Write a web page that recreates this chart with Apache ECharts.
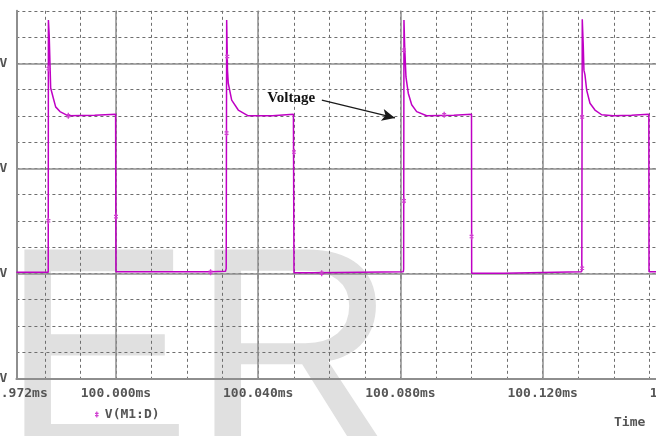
<!DOCTYPE html>
<html>
<head>
<meta charset="utf-8">
<script src="https://cdn.jsdelivr.net/npm/echarts@6/dist/echarts.min.js"></script>
<style>
  html, body { margin: 0; padding: 0; background: #ffffff; }
  #chart { width: 656px; height: 436px; }
</style>
</head>
<body>
<div id="chart"></div>
<script>
// Drain voltage V(M1:D); time in microseconds after 100.000 ms, voltage in volts.
const timeUs = [
  -28, -19.05,
  -19.0, -18.78, -18.36, -17.63, -16.96, -15.75, -13.41, -6.0, -0.1, 0.0,
  0.05, 26.6, 30.8, 31.0,
  31.13, 31.36, 31.58, 32.54, 34.39, 37.2, 44.0, 49.9, 50.06,
  56.8, 56.9, 80.8, 80.9,
  80.99, 81.19, 81.55, 82.2, 83.16, 84.56, 87.37, 95.0, 99.98, 100.03,
  109.1, 109.2, 130.9, 131.0,
  131.13, 131.41, 131.6, 131.89, 132.37, 133.3, 134.7, 136.58, 139.85, 145.0, 149.85, 149.9,
  170
];
const voltV = [
  0.2, 0.2,
  48.25, 45.4, 35.3, 33.4, 31.7, 30.8, 30.0, 30.1, 30.3, 0.3,
  0.2, 0.3, 0.4, 0.9,
  48.25, 38.7, 36.2, 33.0, 31.1, 30.0, 30.0, 30.3, 0.1,
  0.1, 0.3, 0.3, 0.8,
  48.25, 43.2, 37.4, 34.3, 32.1, 30.8, 30.0, 30.1, 30.3, 0.0,
  0.0, 0.25, 0.3, 1.0,
  48.4, 43.4, 38.7, 37.8, 34.9, 32.4, 31.1, 30.2, 30.0, 30.1, 30.3, 0.3,
  0.3
];

// Trace point markers
const markerTimeUs = [-19.0, -13.4, -19.0, 0.0, 26.6, 31.3, 31.1, 50.06, 57.85, 81.0, 92.3, 81.0, 100.0, 131.1, 131.1];
const markerVoltV  = [39.0, 30.0, 10.0, 10.8, 0.2, 41.3, 26.7, 23.1, 0.0, 42.5, 30.2, 13.8, 7.0, 0.95, 29.8];

// Axis ranges and labelled ticks
const timeStartUs = -28;
const timeEndUs = 170;
const majorTimeTicksUs = [0, 40, 80, 120, 160];
const voltMin = -20;
const voltMax = 50;
const majorVoltTicks = [-20, 0, 20, 40];

// Annotation arrow, in data units
const noteText = 'Voltage';
const noteFrom = [57.9, 33.0];
const noteTo = [78.46, 29.6];

const seriesName = 'V(M1:D)';

// Pixel geometry of the plot
const pxPerUs = 3.556;
const pxPerVolt = 5.25;
const plotLeft = 16.4;
const plotTop = 10.8;
const plotHeight = (voltMax - voltMin) * pxPerVolt;
const plotWidth = (timeEndUs - timeStartUs) * pxPerUs;

const monoFont = 'DejaVu Sans Mono';
const labelColor = '#555555';
const magenta = '#bf00c4';
const dashColor = '#6e6e6e';
const solidColor = '#8e8e8e';
const markerPath = 'path://M2 0H4V10H2Z M0 2H6V4H0Z M0 6H6V8H0Z';

const fmtTime = v => (100 + v / 1000).toFixed(3) + 'ms';

const chart = echarts.init(document.getElementById('chart'), null, { renderer: 'canvas' });

const majorGridLeft = plotLeft + (Math.floor(timeStartUs / 40) * 40 - timeStartUs) * pxPerUs;
const majorVoltTop = plotTop - (60 - voltMax) * pxPerVolt;

chart.setOption({
  animation: false,
  backgroundColor: '#ffffff',
  textStyle: { fontFamily: monoFont },
  grid: [
    { left: plotLeft, top: plotTop, width: plotWidth, height: plotHeight, outerBoundsMode: 'none', containLabel: false },
    { left: majorGridLeft, top: plotTop, width: (timeEndUs - Math.floor(timeStartUs / 40) * 40) * pxPerUs, height: plotHeight, outerBoundsMode: 'none', containLabel: false },
    { left: plotLeft, top: majorVoltTop, width: plotWidth, height: (60 - voltMin) * pxPerVolt, outerBoundsMode: 'none', containLabel: false }
  ],
  xAxis: [
    {
      gridIndex: 0, type: 'value', min: timeStartUs, max: timeEndUs, splitNumber: 20,
      axisLine: { show: true, onZero: false, lineStyle: { color: solidColor, width: 2 } },
      axisTick: { show: false },
      splitLine: { show: true, lineStyle: { color: dashColor, width: 1, type: [3, 3] } },
      axisLabel: {
        show: true, margin: 9, color: labelColor, fontFamily: monoFont, fontSize: 13, fontWeight: 'bold',
        showMinLabel: true, showMaxLabel: true, hideOverlap: false,
        formatter: v => {
          const r = Math.round(v * 1000) / 1000;
          if (Math.abs(r - timeStartUs) < 1e-6) return fmtTime(timeStartUs);
          return majorTimeTicksUs.some(t => Math.abs(t - r) < 1e-6) ? fmtTime(r) : '';
        }
      }
    },
    {
      gridIndex: 1, type: 'value', min: Math.floor(timeStartUs / 40) * 40, max: timeEndUs, interval: 40,
      axisLine: { show: false },
      axisTick: { show: true, inside: false, length: 6, lineStyle: { color: solidColor, width: 1.5 } },
      axisLabel: { show: false },
      splitLine: { show: true, lineStyle: { color: solidColor, width: 1.5, type: 'solid' } }
    },
    { gridIndex: 2, type: 'value', min: timeStartUs, max: timeEndUs, show: false }
  ],
  yAxis: [
    {
      gridIndex: 0, type: 'value', min: voltMin, max: voltMax, interval: 5,
      axisLine: { show: true, onZero: false, lineStyle: { color: solidColor, width: 2 } },
      axisTick: { show: false },
      splitLine: { show: true, lineStyle: { color: dashColor, width: 1, type: [3, 3] } },
      axisLabel: {
        show: true, margin: 9, color: labelColor, fontFamily: monoFont, fontSize: 13, fontWeight: 'bold',
        formatter: v => majorVoltTicks.includes(Math.round(v)) && Math.abs(v - Math.round(v)) < 1e-6 ? Math.round(v) + 'V' : ''
      }
    },
    { gridIndex: 1, type: 'value', min: voltMin, max: voltMax, show: false },
    {
      gridIndex: 2, type: 'value', min: voltMin, max: 60, interval: 20,
      axisLine: { show: false }, axisTick: { show: false }, axisLabel: { show: false },
      splitLine: { show: true, lineStyle: { color: solidColor, width: 1.5, type: 'solid' } }
    }
  ],
  legend: {
    show: true, left: 90, top: 403, itemWidth: 4, itemHeight: 6, itemGap: 6,
    data: [{ name: seriesName, icon: markerPath, itemStyle: { color: '#d040d0' } }],
    textStyle: { color: labelColor, fontFamily: monoFont, fontSize: 13, fontWeight: 'bold', padding: [0, 0, 0, 1] },
    selectedMode: false
  },
  title: {
    text: 'Time', left: 614, top: 416, padding: 0,
    textStyle: { color: labelColor, fontFamily: monoFont, fontSize: 13, fontWeight: 'bold' }
  },
  graphic: [{
    type: 'text', silent: true, z: -10, zlevel: 0,
    x: 1, y: 367,
    style: {
      text: 'ER', fill: '#e0e0e0',
      font: '285px "Liberation Sans", Arial, sans-serif',
      align: 'left', verticalAlign: 'middle'
    }
  }],
  series: [
    {
      name: seriesName, type: 'line', xAxisIndex: 0, yAxisIndex: 0,
      data: timeUs.map((t, i) => [t, voltV[i]]),
      showSymbol: false, symbol: 'none', clip: true, z: 5,
      lineStyle: { color: magenta, width: 1.5 },
      itemStyle: { color: magenta },
      markLine: {
        silent: true, animation: false,
        symbol: ['none', 'arrow'], symbolSize: [9, 13],
        lineStyle: { color: '#1a1a1a', width: 1.2, type: 'solid' },
        label: {
          show: true, position: 'start', distance: 7, formatter: noteText,
          color: '#111111', fontFamily: '"Liberation Serif", "Times New Roman", serif',
          fontSize: 15, fontWeight: 'bold', padding: [0, 0, 10, 0]
        },
        emphasis: { disabled: true },
        data: [[{ coord: noteFrom }, { coord: noteTo }]]
      }
    },
    {
      name: seriesName, type: 'scatter', xAxisIndex: 0, yAxisIndex: 0,
      data: markerTimeUs.map((t, i) => [t, markerVoltV[i]]),
      symbol: markerPath, symbolSize: [4, 6], z: 6,
      itemStyle: { color: '#d040d0', opacity: 1 }
    }
  ]
});
</script>
</body>
</html>
